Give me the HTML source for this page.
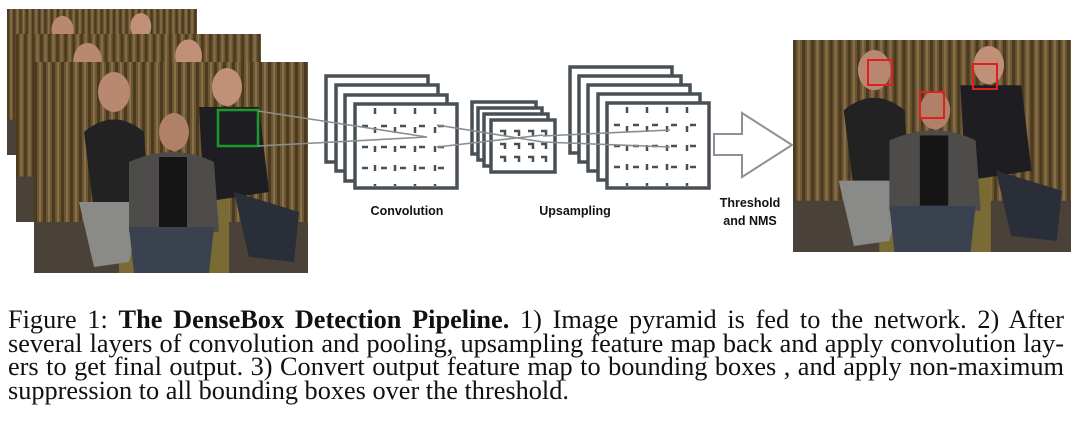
<!DOCTYPE html>
<html><head><meta charset="utf-8"><style>
body{margin:0;background:#fff;width:1081px;height:428px;overflow:hidden;position:relative}
svg{position:absolute;left:0;top:0}
.cap{position:absolute;left:8px;top:308px;width:1056px;font-family:"Liberation Serif",serif;font-size:26.3px;color:#111}
.cap div{height:23.6px;line-height:23.6px;text-align:justify;text-align-last:justify;white-space:nowrap}
.cap div.l{text-align-last:left}
.cap b{font-weight:bold}
</style></head><body>
<svg width="1081" height="428" viewBox="0 0 1081 428">
<defs>
<pattern id="cur" width="9" height="10" patternUnits="userSpaceOnUse">
<rect width="9" height="10" fill="#6b5533"/><rect x="0" width="3" height="10" fill="#4a3a20"/><rect x="5" width="2" height="10" fill="#8a7048"/>
</pattern>
<g id="photo">
<rect width="274" height="211" fill="url(#cur)"/>
<rect y="160" width="274" height="51" fill="#4a4238"/>
<rect x="85" y="130" width="110" height="81" fill="#7a6a34"/>
<ellipse cx="80" cy="30" rx="16" ry="20" fill="#b88870"/>
<path d="M50 70 Q80 45 110 70 L115 150 L60 150 Z" fill="#222"/>
<path d="M45 140 L110 140 L95 200 L60 205 Z" fill="#8a8a88"/>
<ellipse cx="193" cy="25" rx="15" ry="19" fill="#c09078"/>
<path d="M165 45 L225 45 L235 130 L170 140 Z" fill="#1e1e22"/>
<path d="M200 130 L265 150 L260 200 L215 195 Z" fill="#2a2e38"/>
<ellipse cx="140" cy="70" rx="15" ry="19" fill="#b08068"/>
<path d="M95 100 Q140 80 180 100 L185 170 L95 170 Z" fill="#4e4c4a"/>
<rect x="125" y="95" width="28" height="70" fill="#151515"/>
<path d="M95 165 L180 165 L175 211 L100 211 Z" fill="#3a4250"/>
</g>
</defs>
<svg x="7" y="9" width="190" height="146" viewBox="0 0 274 211" preserveAspectRatio="none"><use href="#photo"/></svg>
<svg x="16" y="34" width="245" height="188" viewBox="0 0 274 211" preserveAspectRatio="none"><use href="#photo"/></svg>
<use href="#photo" x="34" y="62"/>
<rect x="218" y="110" width="40" height="36" fill="none" stroke="#1a9a2a" stroke-width="2.5"/>
<svg x="793" y="40" width="278" height="212" viewBox="0 0 274 211" preserveAspectRatio="none"><use href="#photo"/></svg>
<rect x="868" y="60" width="24" height="25" fill="none" stroke="#e02020" stroke-width="2"/>
<rect x="920" y="92" width="24" height="26" fill="none" stroke="#e02020" stroke-width="2"/>
<rect x="973" y="64" width="24" height="25" fill="none" stroke="#e02020" stroke-width="2"/>
<g stroke="#485055" stroke-width="3.5" fill="#fff">
<rect x="326" y="76" width="102" height="86"/>
<rect x="336" y="85" width="102" height="86"/>
<rect x="345" y="95" width="102" height="86"/>
<rect x="355" y="104" width="102" height="84"/>
<rect x="472" y="102" width="64" height="52"/>
<rect x="478" y="108" width="64" height="52"/>
<rect x="484" y="114" width="64" height="52"/>
<rect x="491" y="120" width="64" height="52"/>
<rect x="570" y="67" width="102" height="86"/>
<rect x="579" y="76" width="102" height="86"/>
<rect x="588" y="85" width="102" height="86"/>
<rect x="598" y="94" width="102" height="86"/>
<rect x="607" y="103" width="102" height="85"/>
</g>
<g stroke="#485055" stroke-width="2.5" stroke-dasharray="6 13">
<path d="M362 126H452M362 147H452M362 168H452"/>
<path d="M375 108V186M395 108V186M415 108V186M435 108V186"/>
<path d="M614 125H704M614 146H704M614 167H704"/>
<path d="M627 107V186M647 107V186M667 107V186M687 107V186"/>
</g>
<g stroke="#485055" stroke-width="2.5" fill="none">
<path d="M500 131h5v5M514 131h5v5M528 131h5v5M541 131h5v5M500 144h5v5M514 144h5v5M528 144h5v5M541 144h5v5M500 157h5v5M514 157h5v5M528 157h5v5M541 157h5v5"/>
</g>
<g stroke="#8a8e90" stroke-width="1.6" fill="none">
<path d="M258 111L427 137M258 146L427 137M437 125L543 142M437 147L543 135M543 136L670 130M543 142L670 147"/>
</g>
<path d="M714 134H742V113L792 145L742 177V155H714Z" fill="#fff" stroke="#909090" stroke-width="2"/>
<g font-family="Liberation Sans,sans-serif" font-weight="bold" font-size="12.5" fill="#111" text-anchor="middle">
<text x="407" y="215">Convolution</text>
<text x="575" y="215">Upsampling</text>
<text x="750" y="207">Threshold</text>
<text x="750" y="225">and NMS</text>
</g>
</svg>
<div class="cap">
<div>Figure 1: <b>The DenseBox Detection Pipeline.</b> 1) Image pyramid is fed to the network. 2) After</div>
<div>several layers of convolution and pooling, upsampling feature map back and apply convolution lay-</div>
<div>ers to get final output. 3) Convert output feature map to bounding boxes , and apply non-maximum</div>
<div class="l">suppression to all bounding boxes over the threshold.</div>
</div>
</body></html>
